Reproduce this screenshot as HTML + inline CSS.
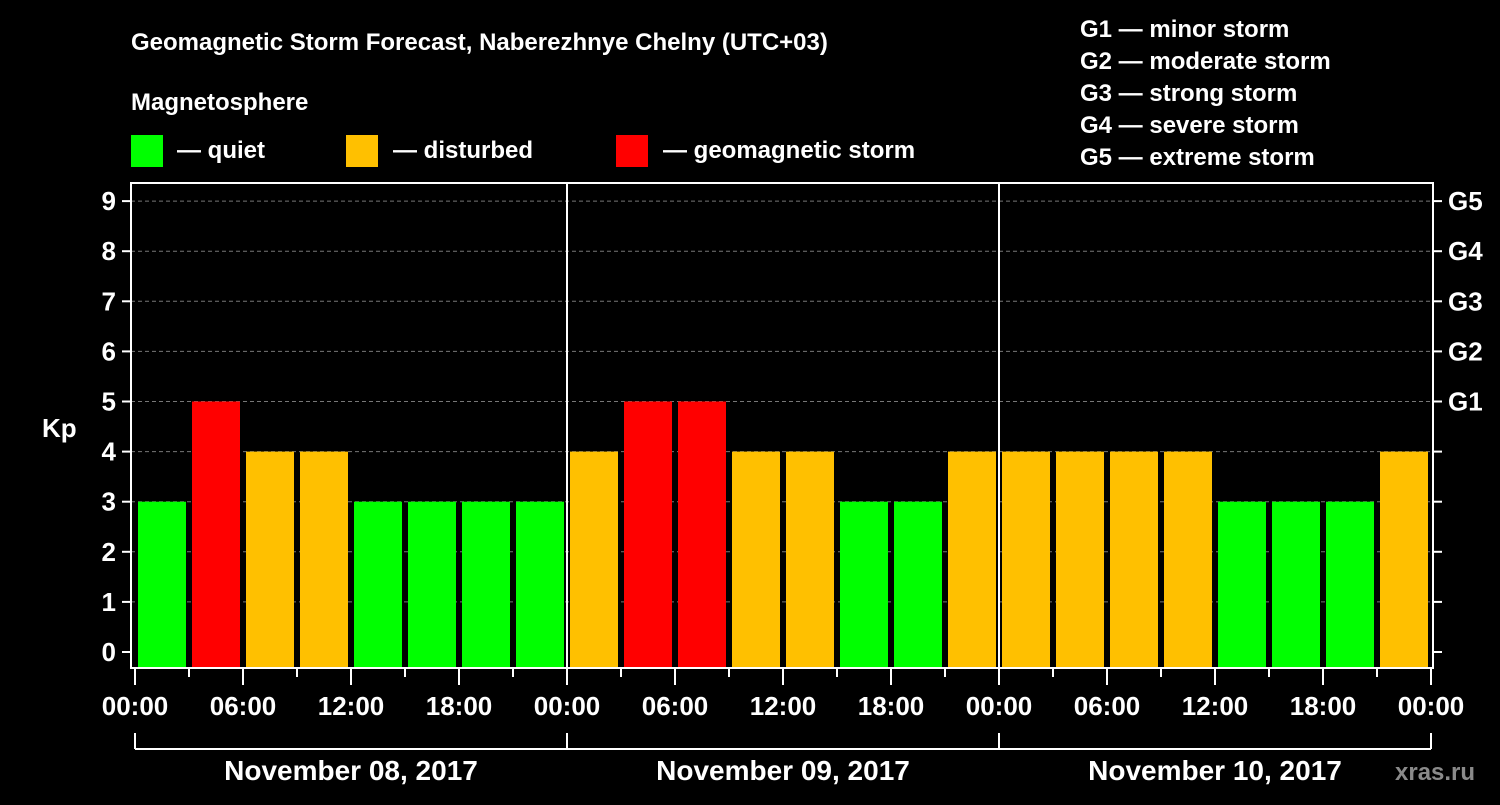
<!DOCTYPE html>
<html><head><meta charset="utf-8"><style>
body{margin:0;background:#000;width:1500px;height:800px;overflow:hidden}
svg text{font-family:"Liberation Sans",Arial,sans-serif;font-weight:bold;fill:#fff}
</style></head><body>
<svg id="c" width="1500" height="800" xmlns="http://www.w3.org/2000/svg">
<rect width="1500" height="800" fill="#000"/>
<text x="131" y="50" font-size="24">Geomagnetic Storm Forecast, Naberezhnye Chelny (UTC+03)</text>
<text x="131" y="110" font-size="24">Magnetosphere</text>
<g>
<rect x="131" y="135" width="32" height="32" fill="#00ff00"/><text x="177" y="158" font-size="24">— quiet</text>
<rect x="346" y="135" width="32" height="32" fill="#ffc000"/><text x="393" y="158" font-size="24">— disturbed</text>
<rect x="616" y="135" width="32" height="32" fill="#ff0000"/><text x="663" y="158" font-size="24">— geomagnetic storm</text>
</g>
<g font-size="24">
<text x="1080" y="37">G1 — minor storm</text>
<text x="1080" y="69">G2 — moderate storm</text>
<text x="1080" y="101">G3 — strong storm</text>
<text x="1080" y="133">G4 — severe storm</text>
<text x="1080" y="165">G5 — extreme storm</text>
</g>
<text x="42" y="437" font-size="26">Kp</text>
<text x="1395" y="780" font-size="24" fill="#888" style="fill:#8a8a8a">xras.ru</text>
<g id="grid"></g><g id="bars"></g><g id="axes"></g>
</svg>
<script>
const days=["November 08, 2017","November 09, 2017","November 10, 2017"];
const kpValues=[3,5,4,4,3,3,3,3, 4,5,5,4,4,3,3,4, 4,4,4,4,3,3,3,4];
const yTicks=[0,1,2,3,4,5,6,7,8,9];
const gLabels=["G1","G2","G3","G4","G5"];
const gLevels=[5,6,7,8,9];
const hourLabels=["00:00","06:00","12:00","18:00"];
const NS="http://www.w3.org/2000/svg";
const x0=135,dayW=432,slotsPerDay=8,L=131,R=1433,T=183,B=668;
const xs=i=>x0+i*dayW/slotsPerDay;
const ys=v=>652-50.1*v;
function mk(t,a,p){const e=document.createElementNS(NS,t);for(const k in a)e.setAttribute(k,a[k]);p.appendChild(e);return e;}
const grid=document.getElementById('grid'),bars=document.getElementById('bars'),axes=document.getElementById('axes');
yTicks.forEach(v=>{
 if(v>0){const g=mk('line',{x1:L,x2:R,y1:ys(v),y2:ys(v),stroke:'#777','stroke-dasharray':'4,3'},grid);
 
 }
 const t=mk('line',{x1:122,x2:L,y1:ys(v),y2:ys(v),stroke:'#fff','stroke-width':2},axes);
 
 
 const r=mk('line',{x1:R,x2:1442,y1:ys(v),y2:ys(v),stroke:'#fff','stroke-width':2},axes);
 
 
 const l=mk('text',{x:116,y:ys(v)+9,'font-size':26,'text-anchor':'end'},axes);l.textContent=v;
 
 
});
gLabels.forEach((g,i)=>{const l=mk('text',{x:1448,y:ys(gLevels[i])+9,'font-size':26},axes);l.textContent=g;
 
 });
kpValues.forEach((v,i)=>{
 const c=v>=5?'#ff0000':(v>=4?'#ffc000':'#00ff00');
 const b=mk('rect',{x:xs(i)+3,y:ys(v),width:48,height:B-ys(v),fill:c},bars);
 
 
});
mk('rect',{x:L,y:T,width:R-L,height:B-T,fill:'none',stroke:'#fff','stroke-width':2},axes);
for(let d=1;d<days.length;d++){mk('line',{x1:x0+d*dayW,x2:x0+d*dayW,y1:T,y2:B,stroke:'#fff','stroke-width':2},axes);}
for(let i=0;i<=kpValues.length;i++){
 const major=i%2==0;
 mk('line',{x1:xs(i),x2:xs(i),y1:B,y2:major?685:677,stroke:'#fff','stroke-width':2},axes);
 if(major){const l=mk('text',{x:xs(i),y:715,'font-size':26,'text-anchor':'middle'},axes);
 l.textContent=hourLabels[(i/2)%4];
 
 }
}
mk('line',{x1:x0,x2:x0+days.length*dayW,y1:749,y2:749,stroke:'#fff','stroke-width':2},axes);
for(let d=0;d<=days.length;d++)mk('line',{x1:x0+d*dayW,x2:x0+d*dayW,y1:733,y2:749,stroke:'#fff','stroke-width':2},axes);
days.forEach((d,i)=>{const l=mk('text',{x:x0+(i+0.5)*dayW,y:780,'font-size':28,'text-anchor':'middle'},axes);l.textContent=d;
 
 });
</script>
</body></html>
